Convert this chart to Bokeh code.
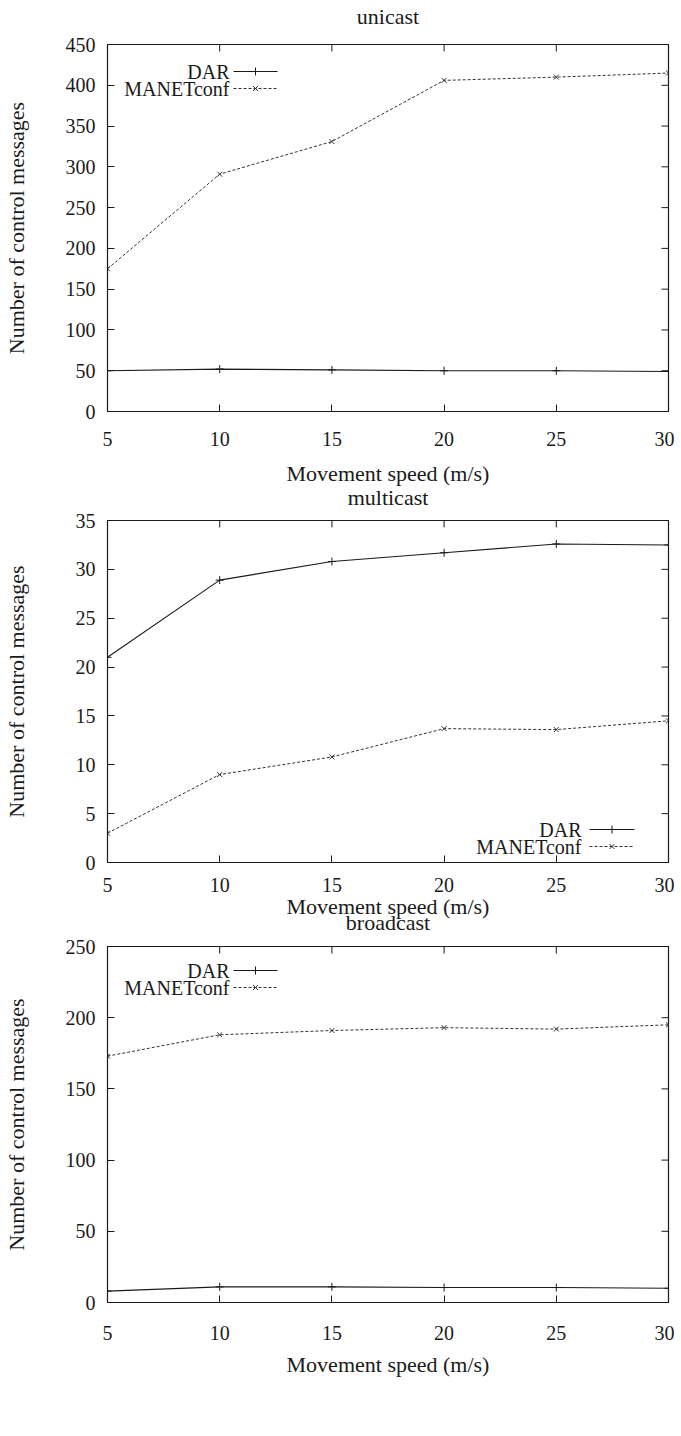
import math
from bokeh.plotting import figure
from bokeh.layouts import column
from bokeh.models import FixedTicker, Label, Range1d
from bokeh.embed import file_html
from bokeh.resources import INLINE

# ---------------- data ----------------
speeds = [5, 10, 15, 20, 25, 30]

unicast_dar = [50, 52, 51, 50, 50, 49]
unicast_manet = [175, 291, 331, 406, 410, 415]

multicast_dar = [21, 28.9, 30.8, 31.7, 32.6, 32.5]
multicast_manet = [3, 9, 10.8, 13.7, 13.6, 14.5]

broadcast_dar = [8, 11, 11, 10.5, 10.5, 10]
broadcast_manet = [173, 188, 191, 193, 192, 195]

titles = ["unicast", "multicast", "broadcast"]
series_names = ["DAR", "MANETconf"]
x_label = "Movement speed (m/s)"
y_label = "Number of control messages"
x_ticks = [5, 10, 15, 20, 25, 30]
y_ticks_unicast = [0, 50, 100, 150, 200, 250, 300, 350, 400, 450]
y_ticks_multicast = [0, 5, 10, 15, 20, 25, 30, 35]
y_ticks_broadcast = [0, 50, 100, 150, 200, 250]

FONT = "Liberation Serif"
INK = "#1a1a1a"
DASH_INK = "#333333"
FRAME_W = 561


def make_panel(title, dar, manet, yticks, frame_h, title_standoff,
               tick_standoff, xlab_standoff, ylab_standoff, legend_px, top_margin):
    p = figure(frame_width=FRAME_W, frame_height=frame_h,
               x_range=Range1d(x_ticks[0], x_ticks[-1]),
               y_range=Range1d(yticks[0], yticks[-1]),
               output_backend="svg", toolbar_location=None,
               min_border_left=101, min_border_right=6,
               min_border_top=0, min_border_bottom=0,
               margin=(top_margin, 0, 0, 0))
    p.title.text = title
    p.title.align = "center"
    p.title.text_font = FONT
    p.title.text_font_size = "22px"
    p.title.text_font_style = "normal"
    p.title.text_color = INK
    p.title.standoff = title_standoff
    p.grid.visible = False
    p.outline_line_color = INK
    p.outline_line_width = 1.2
    p.background_fill_color = "white"
    p.border_fill_color = None

    xa = p.xaxis[0]
    ya = p.yaxis[0]
    xa.ticker = FixedTicker(ticks=x_ticks)
    ya.ticker = FixedTicker(ticks=yticks)
    xa.axis_label = x_label
    ya.axis_label = y_label
    for ax in (xa, ya):
        ax.major_tick_in = 7
        ax.major_tick_out = 0
        ax.minor_tick_line_color = None
        ax.major_tick_line_color = INK
        ax.axis_line_color = INK
        ax.major_label_text_font = FONT
        ax.major_label_text_font_size = "20px"
        ax.major_label_text_color = INK
        ax.axis_label_text_font = FONT
        ax.axis_label_text_font_size = "22px"
        ax.axis_label_text_font_style = "normal"
        ax.axis_label_text_color = INK
    xa.major_label_standoff = tick_standoff
    xa.axis_label_standoff = xlab_standoff
    ya.major_label_standoff = 12
    ya.axis_label_standoff = ylab_standoff

    x0, x1 = x_ticks[0], x_ticks[-1]
    y0, y1 = yticks[0], yticks[-1]

    def dx(px):
        return x0 + px / FRAME_W * (x1 - x0)

    def dy(py):
        return y0 + py / frame_h * (y1 - y0)

    # mirrored tick marks on top / right (gnuplot style); the outer half of
    # each dash is clipped by the frame
    p.scatter(x_ticks, [y1] * len(x_ticks), marker="dash", angle=math.pi / 2,
              size=14, line_color=INK, line_width=1)
    p.scatter([x1] * len(yticks), yticks, marker="dash",
              size=14, line_color=INK, line_width=1)

    # data series
    p.line(speeds, dar, line_color=INK, line_width=1.1)
    p.scatter(speeds, dar, marker="cross", size=8, line_color=INK, line_width=1)
    p.line(speeds, manet, line_color=DASH_INK, line_width=1, line_dash="3 2")
    p.scatter(speeds, manet, marker="x", size=7, line_color=DASH_INK, line_width=1)

    # gnuplot-style key: right-aligned text followed by the line sample
    text_right, row1, row2, s0, s1 = legend_px
    styles = [dict(line_color=INK, line_width=1.1),
              dict(line_color=DASH_INK, line_width=1, line_dash="3 2")]
    marks = [dict(marker="cross", size=8, line_color=INK, line_width=1),
             dict(marker="x", size=7, line_color=DASH_INK, line_width=1)]
    for name, row, st, mk in zip(series_names, (row1, row2), styles, marks):
        p.add_layout(Label(x=dx(text_right), y=dy(row), text=name,
                           text_align="right", text_baseline="middle",
                           text_font=FONT, text_font_size="20px",
                           text_color=INK))
        p.line([dx(s0), dx(s1)], [dy(row), dy(row)], **st)
        p.scatter([dx((s0 + s1) / 2)], [dy(row)], **mk)
    return p


p1 = make_panel(titles[0], unicast_dar, unicast_manet, y_ticks_unicast,
                frame_h=367, title_standoff=31, tick_standoff=20,
                xlab_standoff=12, ylab_standoff=34,
                legend_px=(122, 340, 323, 126, 170), top_margin=-14)
p2 = make_panel(titles[1], multicast_dar, multicast_manet, y_ticks_multicast,
                frame_h=342, title_standoff=21, tick_standoff=15,
                xlab_standoff=-1, ylab_standoff=44,
                legend_px=(474, 33, 16, 482, 527), top_margin=-16)
p3 = make_panel(titles[2], broadcast_dar, broadcast_manet, y_ticks_broadcast,
                frame_h=356, title_standoff=23, tick_standoff=23,
                xlab_standoff=9, ylab_standoff=34,
                legend_px=(122, 332, 315, 126, 170), top_margin=-25)

layout = column(p1, p2, p3, spacing=0)
open("out.html", "w").write(file_html(layout, INLINE))
